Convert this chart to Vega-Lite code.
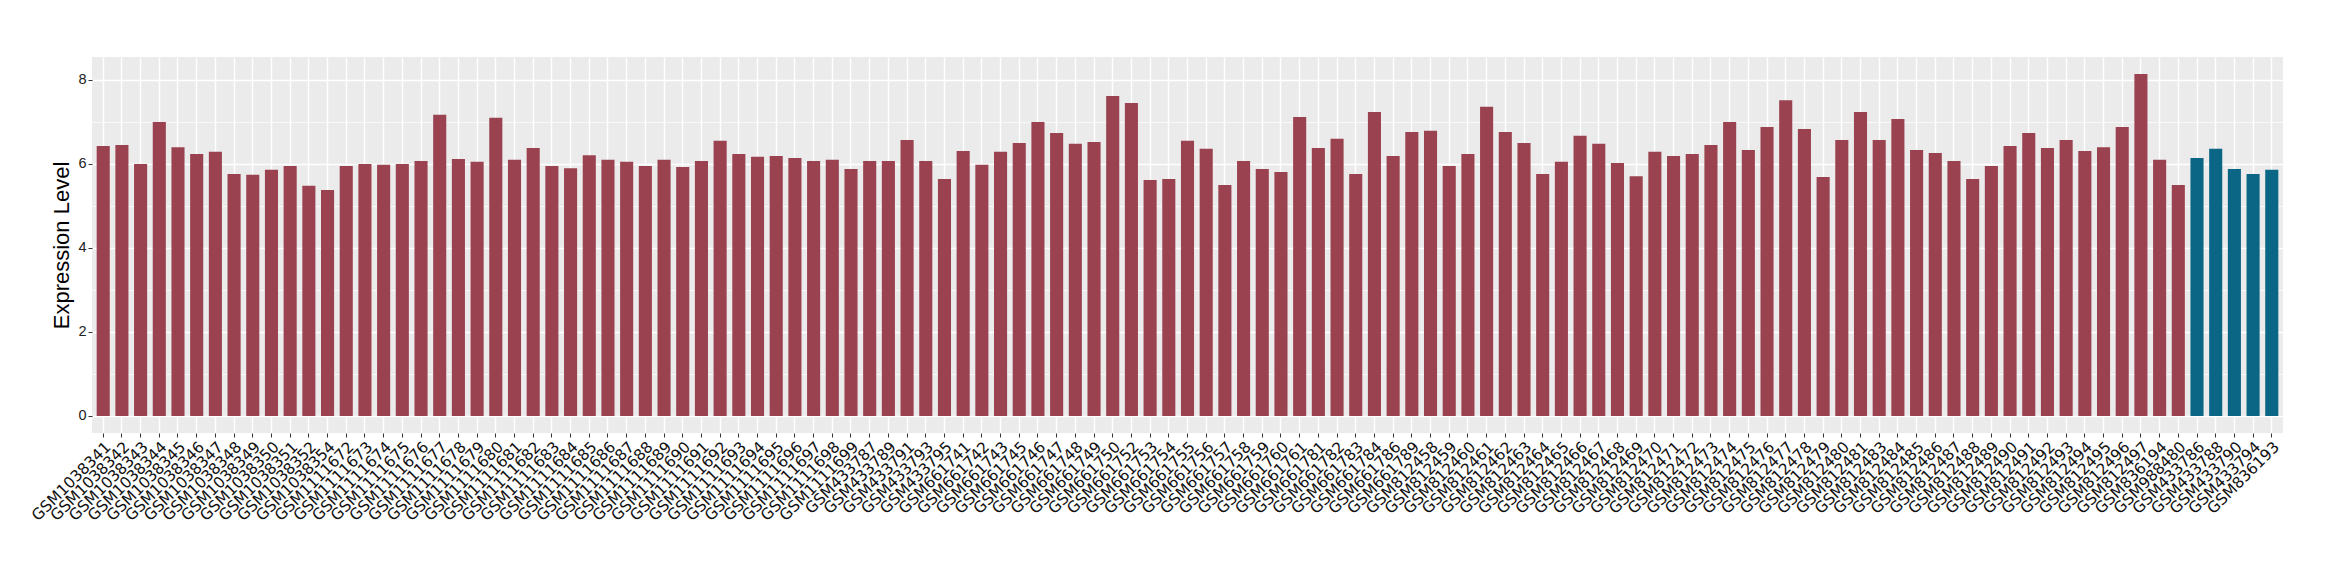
{
  "$schema": "https://vega.github.io/schema/vega-lite/v6.json",
  "width": 2191,
  "height": 376,
  "autosize": {"type": "none"},
  "padding": {"left": 92, "top": 57, "right": 57, "bottom": 147},
  "background": "white",
  "config": {"view": {"fill": "#EBEBEB", "stroke": null}, "font": "Liberation Sans"},
  "data": {"values": [
    {"sample": "GSM1038341", "value": 6.43, "g": "a"},
    {"sample": "GSM1038342", "value": 6.45, "g": "a"},
    {"sample": "GSM1038343", "value": 6.00, "g": "a"},
    {"sample": "GSM1038344", "value": 7.00, "g": "a"},
    {"sample": "GSM1038345", "value": 6.40, "g": "a"},
    {"sample": "GSM1038346", "value": 6.24, "g": "a"},
    {"sample": "GSM1038347", "value": 6.29, "g": "a"},
    {"sample": "GSM1038348", "value": 5.76, "g": "a"},
    {"sample": "GSM1038349", "value": 5.74, "g": "a"},
    {"sample": "GSM1038350", "value": 5.86, "g": "a"},
    {"sample": "GSM1038351", "value": 5.95, "g": "a"},
    {"sample": "GSM1038352", "value": 5.48, "g": "a"},
    {"sample": "GSM1038354", "value": 5.38, "g": "a"},
    {"sample": "GSM1111672", "value": 5.95, "g": "a"},
    {"sample": "GSM1111673", "value": 6.00, "g": "a"},
    {"sample": "GSM1111674", "value": 5.98, "g": "a"},
    {"sample": "GSM1111675", "value": 6.00, "g": "a"},
    {"sample": "GSM1111676", "value": 6.07, "g": "a"},
    {"sample": "GSM1111677", "value": 7.17, "g": "a"},
    {"sample": "GSM1111678", "value": 6.12, "g": "a"},
    {"sample": "GSM1111679", "value": 6.05, "g": "a"},
    {"sample": "GSM1111680", "value": 7.10, "g": "a"},
    {"sample": "GSM1111681", "value": 6.10, "g": "a"},
    {"sample": "GSM1111682", "value": 6.38, "g": "a"},
    {"sample": "GSM1111683", "value": 5.95, "g": "a"},
    {"sample": "GSM1111684", "value": 5.90, "g": "a"},
    {"sample": "GSM1111685", "value": 6.21, "g": "a"},
    {"sample": "GSM1111686", "value": 6.10, "g": "a"},
    {"sample": "GSM1111687", "value": 6.05, "g": "a"},
    {"sample": "GSM1111688", "value": 5.95, "g": "a"},
    {"sample": "GSM1111689", "value": 6.10, "g": "a"},
    {"sample": "GSM1111690", "value": 5.93, "g": "a"},
    {"sample": "GSM1111691", "value": 6.07, "g": "a"},
    {"sample": "GSM1111692", "value": 6.55, "g": "a"},
    {"sample": "GSM1111693", "value": 6.24, "g": "a"},
    {"sample": "GSM1111694", "value": 6.17, "g": "a"},
    {"sample": "GSM1111695", "value": 6.19, "g": "a"},
    {"sample": "GSM1111696", "value": 6.14, "g": "a"},
    {"sample": "GSM1111697", "value": 6.07, "g": "a"},
    {"sample": "GSM1111698", "value": 6.10, "g": "a"},
    {"sample": "GSM1111699", "value": 5.88, "g": "a"},
    {"sample": "GSM433787", "value": 6.07, "g": "a"},
    {"sample": "GSM433789", "value": 6.07, "g": "a"},
    {"sample": "GSM433791", "value": 6.57, "g": "a"},
    {"sample": "GSM433793", "value": 6.07, "g": "a"},
    {"sample": "GSM433795", "value": 5.64, "g": "a"},
    {"sample": "GSM661741", "value": 6.31, "g": "a"},
    {"sample": "GSM661742", "value": 5.98, "g": "a"},
    {"sample": "GSM661743", "value": 6.29, "g": "a"},
    {"sample": "GSM661745", "value": 6.50, "g": "a"},
    {"sample": "GSM661746", "value": 7.00, "g": "a"},
    {"sample": "GSM661747", "value": 6.74, "g": "a"},
    {"sample": "GSM661748", "value": 6.48, "g": "a"},
    {"sample": "GSM661749", "value": 6.52, "g": "a"},
    {"sample": "GSM661750", "value": 7.62, "g": "a"},
    {"sample": "GSM661752", "value": 7.45, "g": "a"},
    {"sample": "GSM661753", "value": 5.62, "g": "a"},
    {"sample": "GSM661754", "value": 5.64, "g": "a"},
    {"sample": "GSM661755", "value": 6.55, "g": "a"},
    {"sample": "GSM661756", "value": 6.36, "g": "a"},
    {"sample": "GSM661757", "value": 5.50, "g": "a"},
    {"sample": "GSM661758", "value": 6.07, "g": "a"},
    {"sample": "GSM661759", "value": 5.88, "g": "a"},
    {"sample": "GSM661760", "value": 5.81, "g": "a"},
    {"sample": "GSM661761", "value": 7.12, "g": "a"},
    {"sample": "GSM661781", "value": 6.38, "g": "a"},
    {"sample": "GSM661782", "value": 6.60, "g": "a"},
    {"sample": "GSM661783", "value": 5.76, "g": "a"},
    {"sample": "GSM661784", "value": 7.24, "g": "a"},
    {"sample": "GSM661786", "value": 6.19, "g": "a"},
    {"sample": "GSM661789", "value": 6.76, "g": "a"},
    {"sample": "GSM812458", "value": 6.79, "g": "a"},
    {"sample": "GSM812459", "value": 5.95, "g": "a"},
    {"sample": "GSM812460", "value": 6.24, "g": "a"},
    {"sample": "GSM812461", "value": 7.36, "g": "a"},
    {"sample": "GSM812462", "value": 6.76, "g": "a"},
    {"sample": "GSM812463", "value": 6.50, "g": "a"},
    {"sample": "GSM812464", "value": 5.76, "g": "a"},
    {"sample": "GSM812465", "value": 6.05, "g": "a"},
    {"sample": "GSM812466", "value": 6.67, "g": "a"},
    {"sample": "GSM812467", "value": 6.48, "g": "a"},
    {"sample": "GSM812468", "value": 6.02, "g": "a"},
    {"sample": "GSM812469", "value": 5.71, "g": "a"},
    {"sample": "GSM812470", "value": 6.29, "g": "a"},
    {"sample": "GSM812471", "value": 6.19, "g": "a"},
    {"sample": "GSM812472", "value": 6.24, "g": "a"},
    {"sample": "GSM812473", "value": 6.45, "g": "a"},
    {"sample": "GSM812474", "value": 7.00, "g": "a"},
    {"sample": "GSM812475", "value": 6.33, "g": "a"},
    {"sample": "GSM812476", "value": 6.88, "g": "a"},
    {"sample": "GSM812477", "value": 7.52, "g": "a"},
    {"sample": "GSM812478", "value": 6.83, "g": "a"},
    {"sample": "GSM812479", "value": 5.69, "g": "a"},
    {"sample": "GSM812480", "value": 6.57, "g": "a"},
    {"sample": "GSM812481", "value": 7.24, "g": "a"},
    {"sample": "GSM812483", "value": 6.57, "g": "a"},
    {"sample": "GSM812484", "value": 7.07, "g": "a"},
    {"sample": "GSM812485", "value": 6.33, "g": "a"},
    {"sample": "GSM812486", "value": 6.26, "g": "a"},
    {"sample": "GSM812487", "value": 6.07, "g": "a"},
    {"sample": "GSM812488", "value": 5.64, "g": "a"},
    {"sample": "GSM812489", "value": 5.95, "g": "a"},
    {"sample": "GSM812490", "value": 6.43, "g": "a"},
    {"sample": "GSM812491", "value": 6.74, "g": "a"},
    {"sample": "GSM812492", "value": 6.38, "g": "a"},
    {"sample": "GSM812493", "value": 6.57, "g": "a"},
    {"sample": "GSM812494", "value": 6.31, "g": "a"},
    {"sample": "GSM812495", "value": 6.40, "g": "a"},
    {"sample": "GSM812496", "value": 6.88, "g": "a"},
    {"sample": "GSM812497", "value": 8.14, "g": "a"},
    {"sample": "GSM836194", "value": 6.10, "g": "a"},
    {"sample": "GSM988480", "value": 5.50, "g": "a"},
    {"sample": "GSM433786", "value": 6.14, "g": "b"},
    {"sample": "GSM433788", "value": 6.36, "g": "b"},
    {"sample": "GSM433790", "value": 5.88, "g": "b"},
    {"sample": "GSM433794", "value": 5.76, "g": "b"},
    {"sample": "GSM836193", "value": 5.86, "g": "b"}
  ]},
  "encoding": {
    "x": {
      "field": "sample",
      "type": "nominal",
      "sort": null,
      "scale": {"paddingInner": 0.3, "paddingOuter": 0.25},
      "axis": {
        "title": null,
        "grid": true,
        "gridColor": "white",
        "gridWidth": 1.4,
        "domain": false,
        "ticks": true,
        "tickColor": "#333333",
        "tickSize": 4,
        "tickWidth": 1,
        "labelAngle": -45,
        "labelAlign": "right",
        "labelBaseline": "top",
        "labelPadding": 2,
        "labelFontSize": 15.5,
        "labelColor": "#111111",
        "labelFont": "DejaVu Sans",
        "labelOverlap": false,
        "labelLimit": 300
      }
    }
  },
  "layer": [
    {
      "mark": {"type": "bar", "opacity": 0},
      "encoding": {
        "y": {
          "field": "value",
          "type": "quantitative",
          "scale": {"domain": [-0.407, 8.547], "nice": false, "zero": false},
          "axis": {
            "orient": "left",
            "values": [1, 3, 5, 7],
            "grid": true,
            "gridColor": "white",
            "gridWidth": 0.7,
            "labels": false,
            "ticks": false,
            "domain": false,
            "title": null
          }
        },
        "y2": {"datum": 0}
      }
    },
    {
      "mark": {"type": "bar"},
      "encoding": {
        "y": {
          "field": "value",
          "type": "quantitative",
          "scale": {"domain": [-0.407, 8.547], "nice": false, "zero": false},
          "axis": {
            "orient": "left",
            "values": [0, 2, 4, 6, 8],
            "grid": true,
            "gridColor": "white",
            "gridWidth": 1.4,
            "domain": false,
            "tickColor": "#333333",
            "tickSize": 4,
            "labelFontSize": 14.5,
            "labelColor": "#222222",
            "labelPadding": 2,
            "title": "Expression Level",
            "titleFontSize": 22,
            "titleFontWeight": "normal",
            "titleColor": "black",
            "titlePadding": 4
          }
        },
        "y2": {"datum": 0},
        "color": {
          "field": "g",
          "type": "nominal",
          "scale": {"domain": ["a", "b"], "range": ["#9A4250", "#0B6585"]},
          "legend": null
        }
      }
    }
  ],
  "resolve": {"axis": {"y": "independent"}}
}
